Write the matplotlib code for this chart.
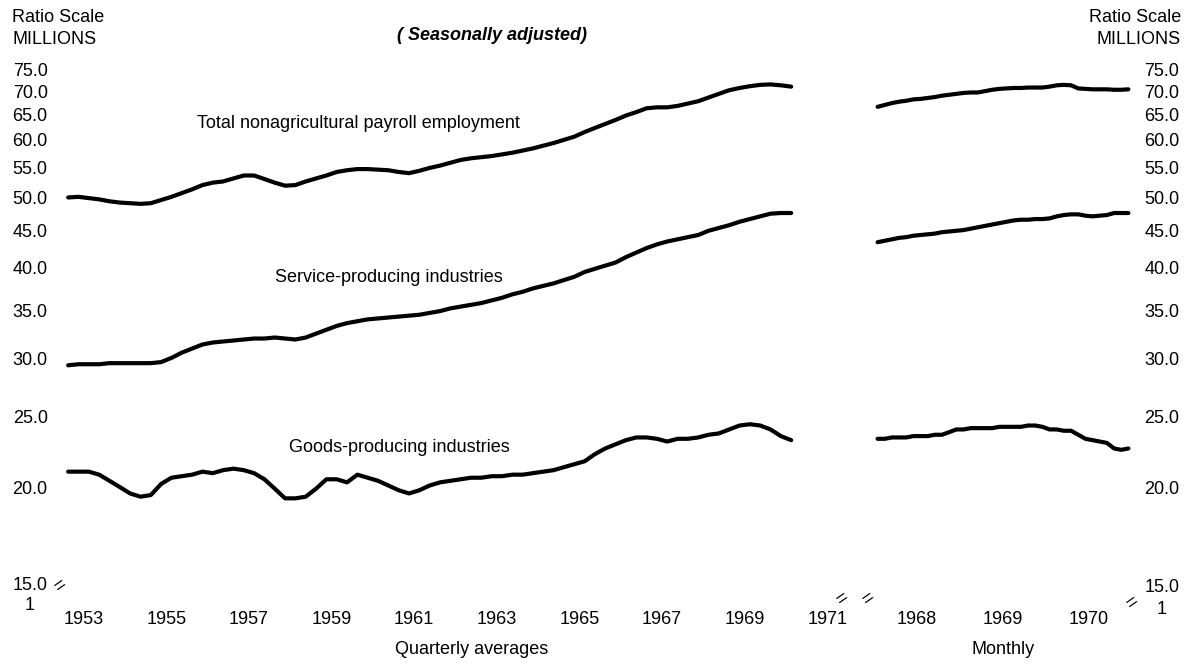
import matplotlib
matplotlib.use("Agg")
import matplotlib.pyplot as plt
import numpy as np

## data (millions, seasonally adjusted)

# quarterly averages, 1953 Q1 .. 1970 Q3
q_start = 1953
total_q = [50.0, 50.1, 49.9, 49.7, 49.4, 49.2, 49.1, 49.0, 49.1, 49.6,
           50.1, 50.7, 51.3, 52.0, 52.4, 52.6, 53.1, 53.6, 53.6, 53.0,
           52.4, 51.9, 52.0, 52.6, 53.1, 53.6, 54.2, 54.5, 54.7, 54.7,
           54.6, 54.5, 54.2, 54.0, 54.4, 54.9, 55.3, 55.8, 56.3, 56.6,
           56.8, 57.0, 57.3, 57.6, 58.0, 58.4, 58.9, 59.4, 60.0, 60.6,
           61.5, 62.3, 63.1, 63.9, 64.8, 65.5, 66.3, 66.5, 66.5, 66.8,
           67.3, 67.8, 68.6, 69.4, 70.2, 70.7, 71.1, 71.4, 71.5, 71.3,
           71.0]
service_q = [29.4, 29.5, 29.5, 29.5, 29.6, 29.6, 29.6, 29.6, 29.6, 29.7,
             30.1, 30.6, 31.0, 31.4, 31.6, 31.7, 31.8, 31.9, 32.0, 32.0,
             32.1, 32.0, 31.9, 32.1, 32.5, 32.9, 33.3, 33.6, 33.8, 34.0,
             34.1, 34.2, 34.3, 34.4, 34.5, 34.7, 34.9, 35.2, 35.4, 35.6,
             35.8, 36.1, 36.4, 36.8, 37.1, 37.5, 37.8, 38.1, 38.5, 38.9,
             39.5, 39.9, 40.3, 40.7, 41.4, 42.0, 42.6, 43.1, 43.5, 43.8,
             44.1, 44.4, 45.0, 45.4, 45.8, 46.3, 46.7, 47.1, 47.5, 47.6,
             47.6]
goods_q = [21.0, 21.0, 21.0, 20.8, 20.4, 20.0, 19.6, 19.4, 19.5, 20.2,
           20.6, 20.7, 20.8, 21.0, 20.9, 21.1, 21.2, 21.1, 20.9, 20.5,
           19.9, 19.3, 19.3, 19.4, 19.9, 20.5, 20.5, 20.3, 20.8, 20.6,
           20.4, 20.1, 19.8, 19.6, 19.8, 20.1, 20.3, 20.4, 20.5, 20.6,
           20.6, 20.7, 20.7, 20.8, 20.8, 20.9, 21.0, 21.1, 21.3, 21.5,
           21.7, 22.2, 22.6, 22.9, 23.2, 23.4, 23.4, 23.3, 23.1, 23.3,
           23.3, 23.4, 23.6, 23.7, 24.0, 24.3, 24.4, 24.3, 24.0, 23.5,
           23.2]

# monthly, Jan 1968 .. Dec 1970
m_start = 1968
total_m = [66.6, 67.0, 67.4, 67.7, 67.9, 68.2, 68.3, 68.5, 68.7, 69.0,
           69.2, 69.4, 69.6, 69.7, 69.7, 70.0, 70.3, 70.5, 70.6, 70.7,
           70.7, 70.8, 70.8, 70.8, 71.0, 71.3, 71.4, 71.3, 70.6, 70.5,
           70.4, 70.4, 70.4, 70.3, 70.3, 70.4]
service_m = [43.4, 43.6, 43.8, 44.0, 44.1, 44.3, 44.4, 44.5, 44.6, 44.8,
             44.9, 45.0, 45.1, 45.3, 45.5, 45.7, 45.9, 46.1, 46.3, 46.5,
             46.6, 46.6, 46.7, 46.7, 46.8, 47.1, 47.3, 47.4, 47.4, 47.2,
             47.1, 47.2, 47.3, 47.6, 47.6, 47.6]
goods_m = [23.3, 23.3, 23.4, 23.4, 23.4, 23.5, 23.5, 23.5, 23.6, 23.6,
           23.8, 24.0, 24.0, 24.1, 24.1, 24.1, 24.1, 24.2, 24.2, 24.2,
           24.2, 24.3, 24.3, 24.2, 24.0, 24.0, 23.9, 23.9, 23.6, 23.3,
           23.2, 23.1, 23.0, 22.6, 22.5, 22.6]

y_ticks = [20, 25, 30, 35, 40, 45, 50, 55, 60, 65, 70, 75]
q_years = [1953, 1955, 1957, 1959, 1961, 1963, 1965, 1967, 1969, 1971]
m_years = [1968, 1969, 1970]

# x positions: quarter / month midpoints
xq = q_start + 0.125 + 0.25 * np.arange(len(total_q))
xm = m_start + (np.arange(len(total_m)) + 0.5) / 12

plt.rcParams['font.family'] = ['Liberation Sans', 'DejaVu Sans']

W, H = 1187, 668
fig = plt.figure(figsize=(W / 100, H / 100), dpi=100)
fig.patch.set_facecolor('white')

bottom = (H - 578) / H
height = 517 / H
ax1 = fig.add_axes([63 / W, bottom, (848 - 63) / W, height])
ax2 = fig.add_axes([874 / W, bottom, 258 / W, height])

line_kw = dict(color='black', lw=3.0, solid_capstyle='round', solid_joinstyle='round')
for series in (total_q, service_q, goods_q):
    ax1.plot(xq, series, **line_kw)
for series in (total_m, service_m, goods_m):
    ax2.plot(xm, series, **line_kw)

ax1.set_xlim(1953, 1972)
ax2.set_xlim(1968, 1971)

for ax in (ax1, ax2):
    ax.set_yscale('log')
    ax.set_ylim(15, 77)
    ax.set_yticks(y_ticks)
    ax.set_yticklabels(['%.1f' % v for v in y_ticks])
    ax.yaxis.set_minor_locator(matplotlib.ticker.NullLocator())
    for s in ax.spines.values():
        s.set_visible(False)
    ax.tick_params(length=0, labelsize=13)
    ax.tick_params(axis='x', pad=24)
    ax.set_facecolor('none')

ax1.set_xticks([y + 0.5 for y in q_years])
ax1.set_xticklabels([str(y) for y in q_years])
ax1.tick_params(axis='y', pad=11)
ax2.set_xticks([y + 0.5 for y in m_years])
ax2.set_xticklabels([str(y) for y in m_years])
ax2.yaxis.tick_right()
ax2.tick_params(axis='y', pad=9)


def ftext(x, y, s, **kw):
    fig.text(x / W, 1 - y / H, s, **kw)


# headers
ftext(12, 18, 'Ratio Scale', fontsize=13, ha='left', va='center')
ftext(12, 40, 'MILLIONS', fontsize=13, ha='left', va='center')
ftext(1181, 18, 'Ratio Scale', fontsize=13, ha='right', va='center')
ftext(1181, 40, 'MILLIONS', fontsize=13, ha='right', va='center')
ftext(492, 35, '( Seasonally adjusted)', fontsize=13, fontweight='bold',
      fontstyle='italic', ha='center', va='center')

# series labels
ftext(197, 124, 'Total nonagricultural payroll employment', fontsize=13, ha='left', va='center')
ftext(275, 278, 'Service-producing industries', fontsize=13, ha='left', va='center')
ftext(289, 447, 'Goods-producing industries', fontsize=13, ha='left', va='center')

# bottom of scale and breaks
ftext(48, 585, '15.0', fontsize=13, ha='right', va='center')
ftext(30, 605, '1', fontsize=13, ha='center', va='center')
ftext(1145, 587, '15.0', fontsize=13, ha='left', va='center')
ftext(1162, 610, '1', fontsize=13, ha='center', va='center')
for bx, by in [(61, 585), (843, 598), (869, 598), (1133, 602)]:
    ftext(bx, by, '=', fontsize=14, rotation=35, ha='center', va='center')

# axis notes
ftext(395, 650, 'Quarterly averages', fontsize=13, ha='left', va='center')
ftext(1003, 650, 'Monthly', fontsize=13, ha='center', va='center')

plt.savefig('out.png', dpi=100, facecolor='white')
